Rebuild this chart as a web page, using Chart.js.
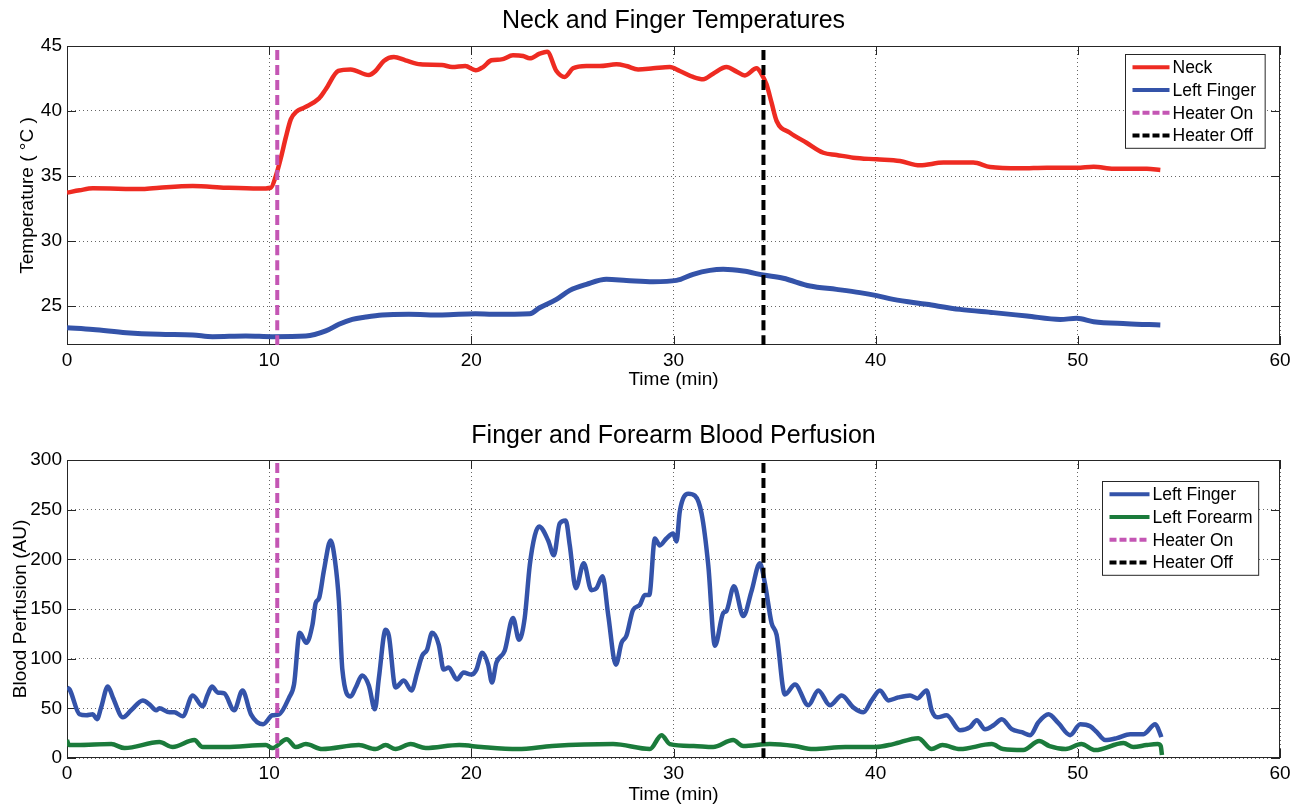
<!DOCTYPE html>
<html>
<head>
<meta charset="utf-8">
<title>Neck and Finger Temperatures</title>
<script src="https://cdn.jsdelivr.net/npm/chart.js@4.4.1/dist/chart.umd.min.js"></script>
<style>
html, body { margin: 0; padding: 0; background: #fff; overflow: hidden; }
canvas { display: block; }
</style>
</head>
<body>
<canvas id="tempChart" width="1299" height="400"></canvas>
<canvas id="perfChart" width="1299" height="406"></canvas>
<script>
// heater switch times (min)
var heaterOn = 10.4;
var heaterOff = 34.45;

// neck temperature
var neckTime = [0, 0.62, 1.28, 3.75, 4.57, 6.22, 7.86, 9.5, 10.08, 10.33, 10.58, 10.82, 11.07, 11.35, 11.73, 12.47, 12.8, 13.42, 14.03, 14.93,
  15.26, 15.67, 16.17, 16.74, 17.48, 18.55, 19.05, 19.7, 20.21, 20.58, 20.99, 21.49, 22.06, 22.56, 22.89, 23.38, 23.75, 24.21, 24.62, 25.03,
  25.69, 26.35, 27.18, 27.67, 28.25, 28.99, 29.82, 30.31, 30.97, 31.47, 31.96, 32.62, 33.12, 33.53, 34.11, 34.36, 34.6, 34.85, 35.1, 35.76,
  36.58, 37.41, 38.07, 38.89, 40.05, 41.2, 42.19, 43.35, 44.83, 45.66, 47.15, 48.47, 49.95, 50.78, 51.77, 53.42, 54.08];
var neckTemp = [33.72, 33.9, 34.05, 34.0, 34.1, 34.23, 34.1, 34.03, 34.1, 35.0, 36.4, 37.95, 39.36, 39.95, 40.26, 40.97, 41.67, 43.08, 43.2, 42.77,
  43.08, 43.85, 44.15, 43.9, 43.59, 43.54, 43.38, 43.46, 43.13, 43.38, 43.9, 43.97, 44.28, 44.23, 44.05, 44.41, 44.56, 43.08, 42.62, 43.28,
  43.46, 43.46, 43.59, 43.46, 43.2, 43.28, 43.38, 43.08, 42.62, 42.44, 42.87, 43.38, 43.03, 42.74, 43.28, 42.82, 42.05, 40.64, 39.23, 38.33,
  37.56, 36.79, 36.62, 36.41, 36.28, 36.15, 35.82, 36.03, 36.03, 35.69, 35.59, 35.64, 35.64, 35.72, 35.56, 35.56, 35.46];

// left finger temperature
var fingerTime = [0, 1.28, 2.93, 4.57, 6.22, 7.2, 8.85, 10.16, 11.81, 12.8, 13.45, 14.11, 14.77, 15.59, 16.91, 18.55, 20.2, 21.07, 22.89, 23.38,
  24.21, 24.87, 25.69, 26.68, 27.67, 28.99, 30.15, 30.97, 31.8, 32.46, 33.45, 34.44, 35.43, 36.75, 38.07, 39.22, 40.05, 40.87, 42.52, 44.17,
  45.83, 47.48, 49.13, 49.95, 50.78, 52.43, 54.08];
var fingerTemp = [23.33, 23.2, 22.95, 22.82, 22.77, 22.64, 22.69, 22.64, 22.69, 23.08, 23.59, 23.97, 24.15, 24.31, 24.36, 24.31, 24.41, 24.36, 24.41, 24.87,
  25.51, 26.2, 26.67, 27.05, 26.97, 26.87, 26.97, 27.44, 27.74, 27.82, 27.69, 27.38, 27.13, 26.54, 26.28, 26.03, 25.8, 25.51, 25.13, 24.74,
  24.49, 24.23, 23.97, 24.05, 23.79, 23.64, 23.54];

// left finger perfusion
var perfFingerTime = [0, 0.13, 0.62, 0.95, 1.28, 1.48, 1.69, 2.02, 2.27, 2.76, 3.17, 3.75, 4.08, 4.41, 4.57, 5.07, 5.31, 5.72, 6.22, 6.71,
  6.96, 7.17, 7.45, 7.78, 8.27, 8.68, 9.1, 9.7, 10.16, 10.49, 10.99, 11.23, 11.51, 11.84, 12.14, 12.3, 12.47, 12.71, 13.04, 13.26,
  13.45, 13.62, 14.03, 14.28, 14.6, 14.93, 15.23, 15.43, 15.76, 15.92, 16.25, 16.66, 17.04, 17.32, 17.57, 17.81, 18.06, 18.39, 18.63, 18.88,
  19.29, 19.62, 20.0, 20.25, 20.54, 20.83, 21.02, 21.24, 21.65, 22.06, 22.36, 22.64, 22.89, 23.14, 23.35, 23.8, 24.08, 24.37, 24.67, 24.87,
  25.17, 25.56, 25.94, 26.19, 26.49, 26.77, 27.15, 27.43, 27.67, 28.0, 28.33, 28.58, 28.8, 29.08, 29.32, 29.65, 29.98, 30.15, 30.31, 30.73,
  31.06, 31.39, 31.72, 32.05, 32.46, 32.62, 32.99, 33.45, 33.86, 34.27, 34.52, 34.85, 35.1, 35.51, 36.01, 36.67, 37.16, 37.74, 38.32, 38.89,
  39.39, 39.8, 40.21, 40.63, 41.12, 41.7, 42.06, 42.52, 42.77, 43.05, 43.51, 44.17, 44.67, 45.0, 45.41, 45.83, 46.24, 46.73, 47.23, 47.64,
  48.05, 48.55, 49.04, 49.62, 50.12, 50.61, 50.94, 51.35, 51.93, 52.59, 53.25, 53.83, 54.08, 54.13];
var perfFinger = [71, 69, 44, 43, 44, 39, 51, 72, 61, 41, 48, 58, 54, 48, 50, 46, 46, 42, 63, 52,
  64, 72, 66, 65, 48, 68, 44, 34, 43, 44, 61, 74, 126, 116, 134, 156, 161, 189, 219, 198,
  158, 89, 62, 71, 83, 73, 49, 81, 129, 123, 71, 78, 68, 86, 103, 109, 126, 114, 89, 91,
  79, 86, 84, 89, 106, 94, 76, 96, 108, 141, 119, 141, 194, 224, 233, 219, 204, 236, 239, 214,
  171, 196, 169, 171, 183, 144, 94, 116, 123, 149, 154, 164, 164, 221, 214, 221, 226, 218, 248, 266,
  264, 246, 194, 113, 146, 148, 173, 143, 168, 196, 176, 136, 124, 64, 74, 53, 68, 53, 63, 51,
  46, 58, 68, 58, 61, 63, 60, 68, 48, 41, 43, 28, 31, 38, 29, 33, 39, 29, 26, 23,
  36, 44, 35, 23, 34, 32, 26, 18, 20, 24, 24, 34, 24, 21];

// left forearm perfusion
var perfForearmTime = [0, 0.1, 0.5, 2.19, 2.85, 4.57, 5.23, 6.3, 6.71, 7.86, 9.84, 10.16, 10.87, 11.32, 11.81, 12.63, 14.44, 15.26, 15.76, 16.25,
  17.0, 17.74, 19.4, 20.5, 22.3, 24, 27.01, 28.83, 29.41, 29.82, 31.0, 31.96, 32.95, 33.45, 34.77, 36.0, 36.9, 38.5, 40.0, 40.87,
  42.11, 42.77, 43.3, 44.17, 45.74, 46.3, 47.3, 48.09, 48.6, 49.4, 50.17, 50.86, 52.26, 52.75, 53.4, 53.95, 54.1, 54.16];
var perfForearm = [18, 13, 13, 14, 10, 16, 11, 18, 11, 11, 13, 10, 19, 11, 14, 9, 13, 9, 13, 9,
  14, 10, 13, 11, 9, 12, 14, 9, 23, 14, 12, 11, 18, 12, 14, 12, 9, 11, 11, 14,
  20, 9, 13, 9, 14, 9, 8, 17, 12, 9, 14, 8, 15, 11, 13, 14, 12, 3];

var tempRange = [22, 45];
var perfRange = [0, 300];

var FONT = '"Liberation Sans", Arial, Helvetica, sans-serif';
var GRID = 'rgba(0,0,0,0.6)';

function pairs(xs, ys) {
  return xs.map(function(x, i) { return { x: x, y: ys[i] }; });
}

function vline(x, range) {
  return [{ x: x, y: range[0] }, { x: x, y: range[1] }];
}

// box around the axes plus small inward ticks on all four sides
var framePlugin = {
  id: 'matlabFrame',
  beforeDatasetsDraw: function(chart) {
    var ctx = chart.ctx, a = chart.chartArea;
    var xs = chart.scales.x, ys = chart.scales.y;
    ctx.save();
    ctx.strokeStyle = '#262626';
    ctx.lineWidth = 1;
    ctx.strokeRect(Math.round(a.left) + 0.5, Math.round(a.top) + 0.5, Math.round(a.right - a.left) - 1, Math.round(a.bottom - a.top) - 1);
    ctx.beginPath();
    xs.ticks.forEach(function(t) {
      var px = Math.round(xs.getPixelForValue(t.value)) + 0.5;
      ctx.moveTo(px, a.bottom); ctx.lineTo(px, a.bottom - 9);
      ctx.moveTo(px, a.top); ctx.lineTo(px, a.top + 9);
    });
    ys.ticks.forEach(function(t) {
      var py = Math.round(ys.getPixelForValue(t.value)) + 0.5;
      ctx.moveTo(a.left, py); ctx.lineTo(a.left + 9, py);
      ctx.moveTo(a.right, py); ctx.lineTo(a.right - 9, py);
    });
    ctx.stroke();
    ctx.restore();
  }
};

// legend box drawn inside the plot, top right
var boxLegend = {
  id: 'boxLegend',
  afterDatasetsDraw: function(chart, args, opts) {
    var ctx = chart.ctx, a = chart.chartArea;
    var items = chart.data.datasets;
    ctx.save();
    ctx.font = opts.fontSize + 'px ' + FONT;
    var tw = 0;
    items.forEach(function(d) { tw = Math.max(tw, ctx.measureText(d.label).width); });
    var w = opts.padLeft + opts.sample + opts.gap + tw + opts.padRight;
    var h = opts.rowH * items.length + opts.padY * 2;
    var x0 = Math.round(a.right - opts.right - w) + 0.5;
    var y0 = Math.round(a.top + opts.top) + 0.5;
    ctx.fillStyle = '#fff';
    ctx.fillRect(x0, y0, w, h);
    ctx.strokeStyle = '#262626';
    ctx.lineWidth = 1;
    ctx.strokeRect(x0, y0, w, h);
    items.forEach(function(d, i) {
      var cy = y0 + opts.padY + opts.rowH * (i + 0.5);
      ctx.strokeStyle = d.borderColor;
      ctx.lineWidth = 4;
      ctx.setLineDash(d.borderDash ? [7, 3] : []);
      ctx.beginPath();
      ctx.moveTo(x0 + opts.padLeft, cy);
      ctx.lineTo(x0 + opts.padLeft + opts.sample, cy);
      ctx.stroke();
      ctx.setLineDash([]);
      ctx.fillStyle = '#000';
      ctx.textBaseline = 'middle';
      ctx.textAlign = 'left';
      ctx.fillText(d.label, x0 + opts.padLeft + opts.sample + opts.gap, cy + 1);
    });
    ctx.restore();
  }
};

function makeOptions(cfg) {
  return {
    responsive: false,
    animation: false,
    devicePixelRatio: 1,
    layout: { padding: { left: 0, right: 19, top: 0, bottom: 0 } },
    elements: { point: { radius: 0 } },
    plugins: {
      legend: { display: false },
      tooltip: { enabled: false },
      title: {
        display: true,
        fullSize: false,
        text: cfg.title,
        color: '#000',
        font: { family: FONT, size: 25, weight: 'normal' },
        padding: cfg.titlePad
      },
      boxLegend: cfg.legend
    },
    scales: {
      x: {
        type: 'linear',
        min: 0,
        max: 60,
        ticks: { stepSize: 10, color: '#000', font: { family: FONT, size: 19 }, padding: 4, maxRotation: 0 },
        grid: { color: GRID, drawTicks: false },
        border: { display: false, dash: [1, 3] },
        title: {
          display: true,
          text: 'Time (min)',
          color: '#000',
          font: { family: FONT, size: 19 },
          padding: { top: 0, bottom: cfg.xTitlePad }
        },
        afterFit: function(s) { s.height = cfg.xHeight; }
      },
      y: {
        type: 'linear',
        min: cfg.range[0],
        max: cfg.range[1],
        ticks: { stepSize: cfg.step, color: '#000', font: { family: FONT, size: 19 }, padding: 5 },
        grid: { color: GRID, drawTicks: false },
        border: { display: false, dash: [1, 3] },
        title: {
          display: true,
          text: cfg.yTitle,
          color: '#000',
          font: { family: FONT, size: 19 },
          padding: { top: cfg.yTitlePad, bottom: 0 }
        },
        afterBuildTicks: function(s) {
          s.ticks = s.ticks.filter(function(t) { return t.value % cfg.step === 0; });
        },
        afterFit: function(s) { s.width = 67; }
      }
    }
  };
}

var lineBase = { fill: false, pointRadius: 0, cubicInterpolationMode: 'monotone', borderWidth: 4 };

function series(label, color, data, order, width) {
  return Object.assign({}, lineBase, { label: label, borderColor: color, data: data, order: order, borderWidth: width || 4 });
}

function heater(label, color, x, range) {
  return Object.assign({}, lineBase, { label: label, borderColor: color, data: vline(x, range), borderDash: [10, 5], order: 0 });
}

new Chart(document.getElementById('tempChart').getContext('2d'), {
  type: 'line',
  data: {
    datasets: [
      series('Neck', '#ee2b22', pairs(neckTime, neckTemp), 1, 4.5),
      series('Left Finger', '#3453a9', pairs(fingerTime, fingerTemp), 2, 5),
      heater('Heater On', '#c456b4', heaterOn, tempRange),
      heater('Heater Off', '#000000', heaterOff, tempRange)
    ]
  },
  options: makeOptions({
    title: 'Neck and Finger Temperatures',
    titlePad: { top: 6, bottom: 10 },
    xHeight: 55,
    xTitlePad: 9,
    range: tempRange,
    step: 5,
    yTitle: 'Temperature ( \u00B0C )',
    yTitlePad: 16,
    legend: { fontSize: 17.5, right: 15, top: 8, padLeft: 7, sample: 37, gap: 3, padRight: 9, rowH: 22.7, padY: 1.5 }
  }),
  plugins: [framePlugin, boxLegend]
});

new Chart(document.getElementById('perfChart').getContext('2d'), {
  type: 'line',
  data: {
    datasets: [
      series('Left Finger', '#3453a9', pairs(perfFingerTime, perfFinger), 1, 4.5),
      series('Left Forearm', '#1b7b3b', pairs(perfForearmTime, perfForearm), 2, 4.5),
      heater('Heater On', '#c456b4', heaterOn, perfRange),
      heater('Heater Off', '#000000', heaterOff, perfRange)
    ]
  },
  options: makeOptions({
    title: 'Finger and Forearm Blood Perfusion',
    titlePad: { top: 21, bottom: 9 },
    xHeight: 48,
    xTitlePad: 0,
    range: perfRange,
    step: 50,
    yTitle: 'Blood Perfusion (AU)',
    yTitlePad: 9,
    legend: { fontSize: 17.5, right: 22, top: 21, padLeft: 7, sample: 40, gap: 3, padRight: 6, rowH: 22.7, padY: 1.5 }
  }),
  plugins: [framePlugin, boxLegend]
});
</script>
</body>
</html>
